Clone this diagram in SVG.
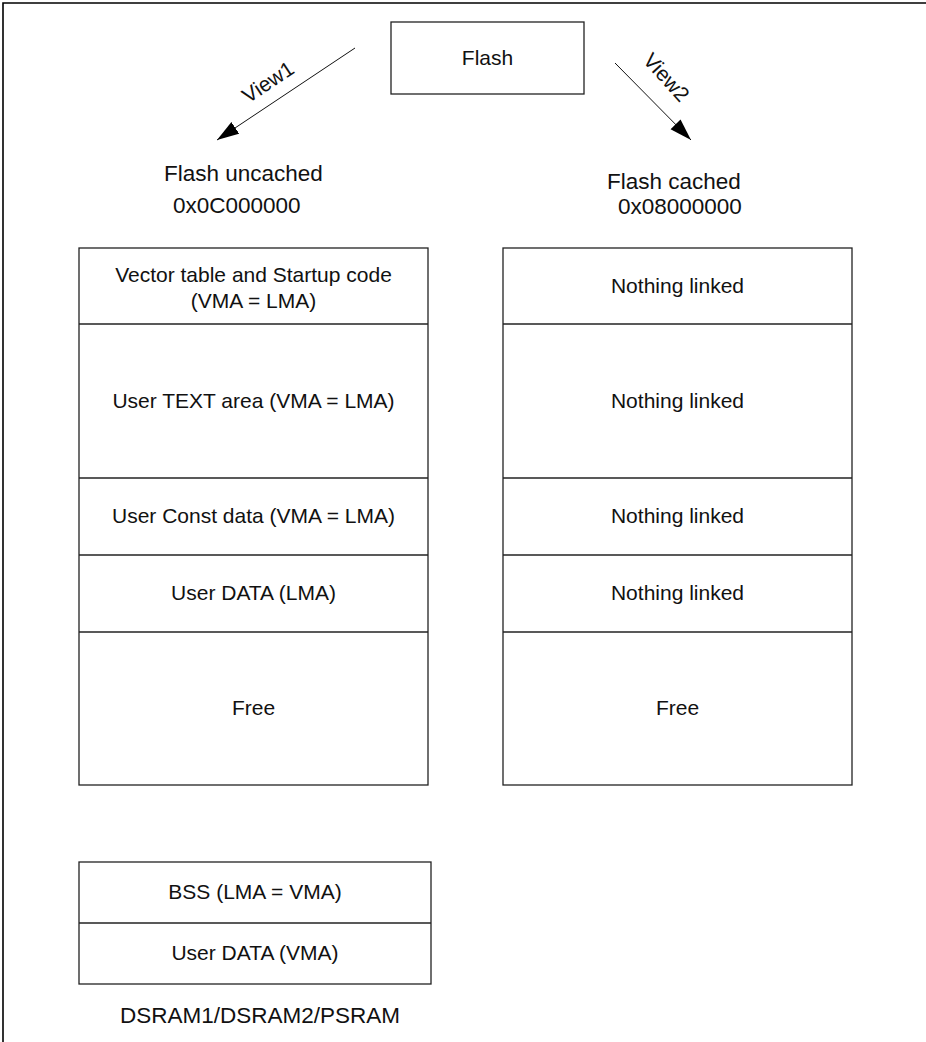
<svg xmlns="http://www.w3.org/2000/svg" width="926" height="1042" viewBox="0 0 926 1042">
<style>
  .box { fill: #ffffff; stroke: #222222; stroke-width: 1.3; }
  .div { stroke: #222222; stroke-width: 1.3; fill: none; }
  .t { font-family: "Liberation Sans", Arial, sans-serif; font-size: 21px; fill: #111111; text-anchor: middle; }
  .h { font-family: "Liberation Sans", Arial, sans-serif; font-size: 22.5px; fill: #111111; }
  .conn { stroke: #111111; stroke-width: 1; fill: none; }
  .head { fill: #000000; }
</style>
<defs>
  <marker id="arr" markerWidth="24" markerHeight="16" refX="22" refY="7" orient="auto" markerUnits="userSpaceOnUse">
    <path class="head" d="M0,0 L22,7 L0,14 Z"/>
  </marker>
</defs>
<rect width="926" height="1042" fill="#ffffff"/>
<g id="frame">
  <path d="M3,1042 L3,3 L926,3" fill="none" stroke="#000000" stroke-width="1.6"/>
</g>

<g id="flash">
  <rect class="box" x="391" y="22" width="193" height="72"/>
  <text class="t" x="487.5" y="65">Flash</text>
</g>

<g id="connectors">
  <line class="conn" x1="355" y1="48" x2="217" y2="140" marker-end="url(#arr)"/>
  <line class="conn" x1="615" y1="63" x2="691" y2="140" marker-end="url(#arr)"/>
  <text class="t" transform="translate(272,88) rotate(-33.7)" x="0" y="0">View1</text>
  <text class="t" transform="translate(661,82) rotate(48)" x="0" y="0">View2</text>
</g>

<g id="label-uncached">
  <text class="h" x="164" y="181">Flash uncached</text>
  <text class="h" x="173" y="213">0x0C000000</text>
</g>
<g id="label-cached">
  <text class="h" x="607" y="189" font-size="22">Flash cached</text>
  <text class="h" x="618" y="214" font-size="22">0x08000000</text>
</g>

<g id="uncached-map">
  <rect class="box" x="79" y="248" width="349" height="537"/>
  <line class="div" x1="79" y1="324" x2="428" y2="324"/>
  <line class="div" x1="79" y1="478" x2="428" y2="478"/>
  <line class="div" x1="79" y1="555" x2="428" y2="555"/>
  <line class="div" x1="79" y1="632" x2="428" y2="632"/>
  <text class="t" x="253.5" y="282">Vector table and Startup code</text>
  <text class="t" x="253.5" y="308">(VMA = LMA)</text>
  <text class="t" x="253.5" y="408">User TEXT area (VMA = LMA)</text>
  <text class="t" x="253.5" y="523">User Const data (VMA = LMA)</text>
  <text class="t" x="253.5" y="600">User DATA (LMA)</text>
  <text class="t" x="253.5" y="715">Free</text>
</g>

<g id="cached-map">
  <rect class="box" x="503" y="248" width="349" height="537"/>
  <line class="div" x1="503" y1="324" x2="852" y2="324"/>
  <line class="div" x1="503" y1="478" x2="852" y2="478"/>
  <line class="div" x1="503" y1="555" x2="852" y2="555"/>
  <line class="div" x1="503" y1="632" x2="852" y2="632"/>
  <text class="t" x="677.5" y="293">Nothing linked</text>
  <text class="t" x="677.5" y="408">Nothing linked</text>
  <text class="t" x="677.5" y="523">Nothing linked</text>
  <text class="t" x="677.5" y="600">Nothing linked</text>
  <text class="t" x="677.5" y="715">Free</text>
</g>

<g id="sram-map">
  <rect class="box" x="79" y="862" width="352" height="122"/>
  <line class="div" x1="79" y1="923" x2="431" y2="923"/>
  <text class="t" x="255" y="899">BSS (LMA = VMA)</text>
  <text class="t" x="255" y="960">User DATA (VMA)</text>
  <text class="h" x="120" y="1023">DSRAM1/DSRAM2/PSRAM</text>
</g>
</svg>
